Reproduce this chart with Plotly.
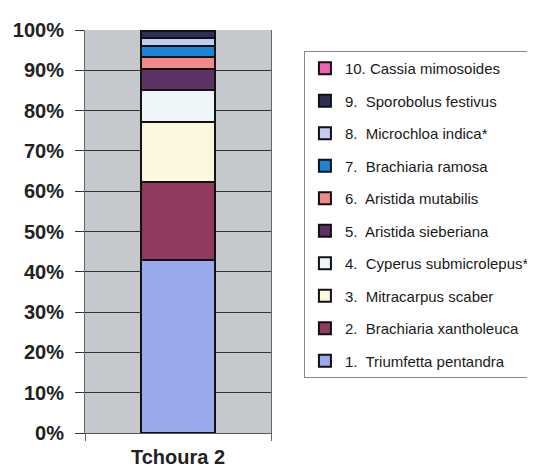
import plotly.graph_objects as go

site = ["Tchoura 2"]

# species, bottom to top, with their share of cover (fraction)
species = [
    "1.  Triumfetta pentandra",
    "2.  Brachiaria xantholeuca",
    "3.  Mitracarpus scaber",
    "4.  Cyperus submicrolepus*",
    "5.  Aristida sieberiana",
    "6.  Aristida mutabilis",
    "7.  Brachiaria ramosa",
    "8.  Microchloa indica*",
    "9.  Sporobolus festivus",
    "10. Cassia mimosoides",
]
shares = [0.429, 0.194, 0.148, 0.079, 0.054, 0.029, 0.028, 0.019, 0.017, 0.003]
colors = ["#9aa9ec", "#8f3a5e", "#fbf8df", "#eef6fa", "#5b3262",
          "#f08a8a", "#1a84d8", "#c2cbf0", "#2e2f55", "#f05fb8"]

fig = go.Figure()

for i, (name, val, col) in enumerate(zip(species, shares, colors)):
    # keep the double gap after single-digit numbers
    label = name.replace("  ", "\u00a0 ", 1)
    fig.add_trace(go.Bar(
        x=site,
        y=[val],
        name=label,
        legendgroup=str(i),
        legendrank=100 - i,
        marker=dict(color=col, line=dict(color="#111111", width=2)),
        width=0.4,
    ))

fig.update_layout(
    barmode="stack",
    width=535,
    height=467,
    margin=dict(l=77, r=272, t=22, b=42, autoexpand=False),
    paper_bgcolor="white",
    plot_bgcolor="#c5c9cd",
    font=dict(family="Arial, Liberation Sans, sans-serif", color="#222222"),
    showlegend=True,
    legend=dict(
        x=1.177, y=0.948, xanchor="left", yanchor="top",
        traceorder="grouped",
        tracegroupgap=10,
        font=dict(size=15, color="#1a1a1a"),
        bordercolor="#888888", borderwidth=1,
        bgcolor="white",
    ),
)

fig.update_yaxes(
    range=[0, 1],
    tickvals=[i / 10 for i in range(11)],
    ticktext=[f"<b>{i * 10}%</b>" for i in range(11)],
    showgrid=True,
    gridcolor="#333333",
    gridwidth=1,
    showline=True,
    linecolor="#666666",
    linewidth=1,
    mirror=True,
    ticks="outside",
    ticklen=9,
    tickcolor="#333333",
    ticklabelstandoff=7,
    tickfont=dict(size=20, color="#222222"),
    zeroline=False,
    automargin=False,
)
fig.update_xaxes(
    showline=True,
    linecolor="#555555",
    ticks="outside",
    tickson="boundaries",
    ticklen=7,
    tickcolor="#666666",
    tickvals=site,
    ticktext=["<b>Tchoura 2</b>"],
    tickfont=dict(size=20, color="#222222"),
    ticklabelstandoff=6,
    automargin=False,
)

fig.write_html("out.html")
